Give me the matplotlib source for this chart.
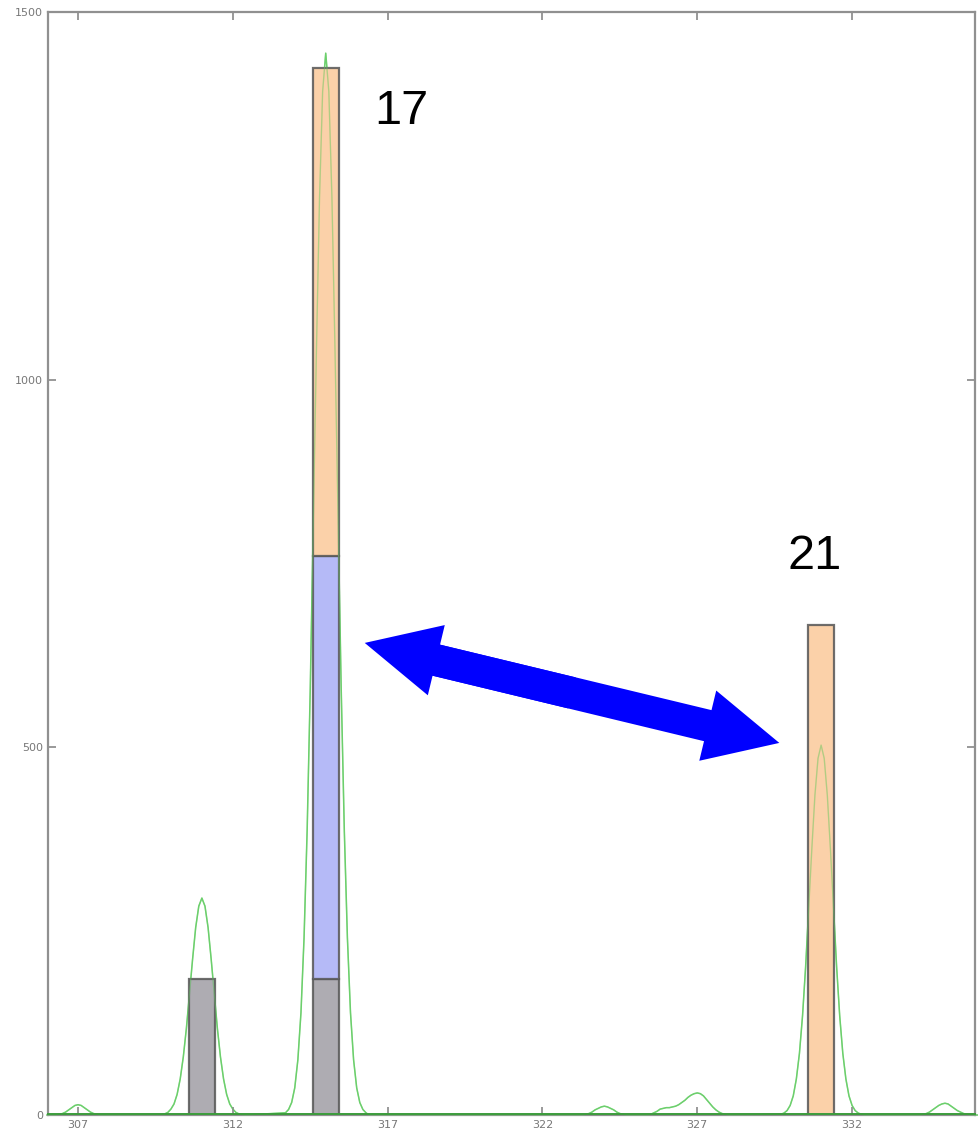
import numpy as np
import matplotlib
matplotlib.use("Agg")
import matplotlib.pyplot as plt

# ---- data ----
bar_x = [311, 315, 331]
gray_vals = [185, 185, 0]
blue_vals = [0, 575, 0]
orange_vals = [0, 664, 666]
bar_labels = ["17", "21"]
label_x = [317.43, 330.8]
label_y = [1365, 759]

x_ticks = [307, 312, 317, 322, 327, 332]
y_ticks = [0, 500, 1000, 1500]

# green trace, read in segments (start x, values at 0.1 steps)
seg_starts = [306.0, 309.7, 313.7, 323.2, 325.4, 329.7, 334.2]
seg_values = [
    [0, 0, 0, 0, 1, 2, 4, 7, 10, 13, 14, 13, 10, 7, 4, 2, 1, 0, 0, 0, 0],
    [0.6, 1.5, 3.5, 8, 15, 28, 49, 79, 118, 165, 212, 255, 284, 295,
     284, 255, 212, 165, 118, 79, 49, 28, 15, 8, 3.5, 1.5, 0.6, 0],
    [3, 7.5, 17, 37, 75, 139, 241, 387, 579, 806, 1040, 1248, 1392, 1444,
     1392, 1248, 1040, 806, 579, 387, 241, 139, 75, 37, 17, 7.5, 3, 0],
    [0, 0, 1, 2, 4, 7, 9, 11, 12, 11, 9, 7, 4, 2, 1, 0, 0],
    [0, 1, 3, 5, 8, 9, 10, 10, 11, 12, 14, 17, 20, 24, 27, 29, 30, 29, 26, 21,
     16, 11, 7, 4, 2, 1, 0],
    [1, 2.6, 6, 13, 26, 49, 84, 135, 202, 281, 362, 435, 485, 503,
     485, 435, 362, 281, 202, 135, 84, 49, 26, 13, 6, 2.6, 1, 0],
    [0, 1, 2, 4, 7, 10, 13, 15, 16, 15, 12, 9, 6, 4, 2, 1, 0, 0, 0, 0, 0],
]

curve_x = []
curve_y = []
for s, vals in zip(seg_starts, seg_values):
    for i, v in enumerate(vals):
        curve_x.append(round(s + 0.1 * i, 2))
        curve_y.append(v)

# ---- figure ----
fig = plt.figure(figsize=(9.79, 11.39), dpi=100)
ax = fig.add_axes([48 / 979, 1 - 1115 / 1139, (975 - 48) / 979, (1115 - 12) / 1139])

ax.set_xlim(306.03, 335.97)
ax.set_ylim(0, 1500)

ax.plot(curve_x, curve_y, color="#6ccf6c", linewidth=1.1, zorder=1, clip_on=False)

bw = 0.85
edge = "#5a5a5a"
bottoms = np.zeros(len(bar_x))
for vals, col in [(gray_vals, "#a3a1a8"), (blue_vals, "#abb1f6"), (orange_vals, "#fbcb9d")]:
    v = np.array(vals, dtype=float)
    mask = v > 0
    ax.bar(np.array(bar_x)[mask], v[mask], bottom=bottoms[mask], width=bw,
           color=col, edgecolor=edge, linewidth=1.6, alpha=0.88, zorder=2)
    bottoms = bottoms + v

ax.plot(curve_x, curve_y, color="#6ccf6c", linewidth=0.9, alpha=0.45, zorder=3, clip_on=False)
ax.plot([306.03, 335.97], [1.5, 1.5], color="#3c9c3c", linewidth=1.4, zorder=3, clip_on=False)

for t, xx, yy in zip(bar_labels, label_x, label_y):
    ax.text(xx, yy, t, fontsize=35, family="Liberation Sans", ha="center", va="center",
            color="black", zorder=5)

# double-headed arrow: one full arrow plus a reverse head over the same shaft
p_left = (316.26, 642)
p_right = (329.65, 506)
mid = ((p_left[0] + p_right[0]) / 2, (p_left[1] + p_right[1]) / 2)
inner = (p_left[0] + 0.1 * (p_right[0] - p_left[0]), p_left[1] + 0.1 * (p_right[1] - p_left[1]))
style = "simple,head_length=53,head_width=52,tail_width=23"
for tip, start in ((p_right, inner), (p_left, mid)):
    ax.annotate("", xy=tip, xytext=start,
                arrowprops=dict(arrowstyle=style, color="#0000ff", shrinkA=0, shrinkB=0,
                                mutation_scale=1, linewidth=0),
                zorder=6)

ax.set_xticks(x_ticks)
ax.set_yticks(y_ticks)
ax.tick_params(direction="in", length=6, width=1.2, colors="#888888",
               labelcolor="#777777", labelsize=8, top=True, right=True)
for sp in ax.spines.values():
    sp.set_color("#909090")
    sp.set_linewidth(1.6)

fig.savefig("out.png", dpi=100)
